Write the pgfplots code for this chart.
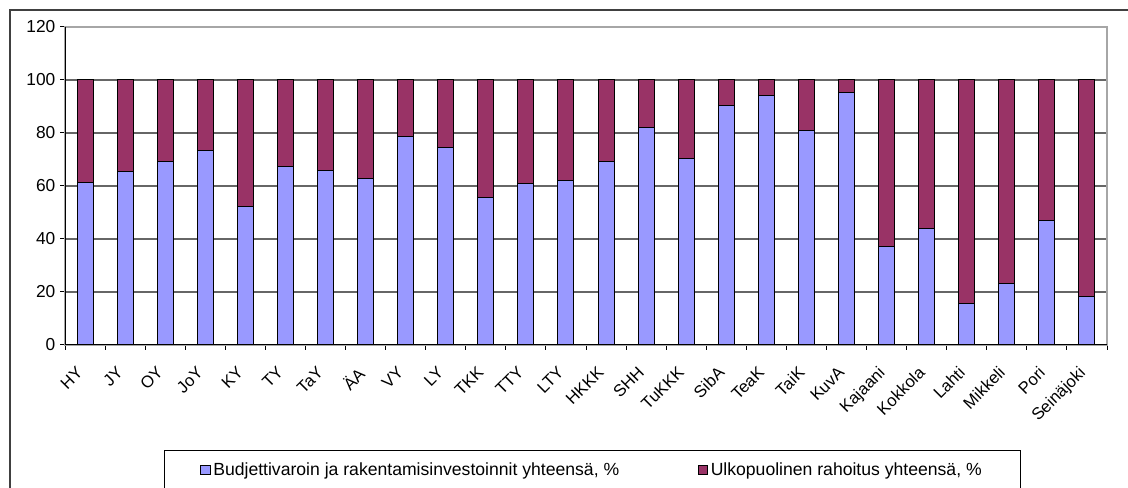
\documentclass[border=0pt]{standalone}
\usepackage{pgfplots}
\pgfplotsset{compat=1.18}
\usepackage{pgfplotstable}
\usepackage{fontspec}
\setmainfont{Liberation Sans}
\definecolor{cblue}{HTML}{9999FF}
\definecolor{cred}{HTML}{993366}
\pgfplotstableread{
x b u
0 61.5 38.5
1 65.3 34.7
2 69.1 30.9
3 73.5 26.5
4 52.1 47.9
5 67.3 32.7
6 65.8 34.2
7 62.8 37.2
8 78.6 21.4
9 74.7 25.3
10 55.8 44.2
11 60.9 39.1
12 62.0 38.0
13 69.1 30.9
14 82.1 17.9
15 70.3 29.7
16 90.3 9.7
17 94.1 5.9
18 80.9 19.1
19 95.3 4.7
20 37.0 63.0
21 43.9 56.1
22 15.6 84.4
23 23.1 76.9
24 47.0 53.0
25 18.2 81.8
}\datatable
\begin{document}
\begin{tikzpicture}
\useasboundingbox (0,0) rectangle (846pt,366pt);
\draw[black!75, line width=0.9pt] (7.5pt,-10pt) -- (7.5pt,358.5pt) -- (860pt,358.5pt);
\begin{axis}[
  at={(48.75pt,107.25pt)}, anchor=south west,
  scale only axis, width=781.5pt, height=238.5pt,
  ybar stacked, bar width=12pt,
  xmin=-0.5, xmax=25.5, ymin=0, ymax=120,
  ytick={0,20,...,120},
  xtick={-0.5,0.5,...,25.5},
  x tick label as interval,
  xticklabels={HY,JY,OY,JoY,KY,TY,TaY,ÄA,VY,LY,TKK,TTY,LTY,HKKK,SHH,TuKKK,SibA,TeaK,TaiK,KuvA,Kajaani,Kokkola,Lahti,Mikkeli,Pori,Seinäjoki},
  tick align=outside, tick pos=left,
  major tick length=3.75pt,
  tick style={black, line width=0.75pt},
  ymajorgrids, grid style={black!60, line width=0.8pt},
  axis line style={black!35, line width=0.9pt},
  yticklabel style={font=\fontsize{13}{15}\selectfont, /pgf/number format/assume math mode=true},
  xticklabel style={font=\fontsize{12.5}{14}\selectfont, xshift=-7pt, yshift=-10pt, rotate=45, anchor=north east, inner sep=1pt},
  legend style={at={(0.095,-0.330)}, anchor=north west, draw=black, line width=0.75pt,
    font=\fontsize{13.2}{15}\selectfont, legend columns=2, inner xsep=27pt, inner ysep=7pt,
    /tikz/every even column/.append style={column sep=57pt}},
  legend image code/.code={\draw[#1, draw=black, line width=0.6pt] (0pt,-3.5pt) rectangle (7pt,3.5pt);},
]
\addplot[fill=cblue, draw=black, line width=0.75pt] table[x=x, y=b] {\datatable};
\addlegendentry{Budjettivaroin ja rakentamisinvestoinnit yhteensä, \%}
\addplot[fill=cred, draw=black, line width=0.75pt] table[x=x, y=u] {\datatable};
\addlegendentry{Ulkopuolinen rahoitus yhteensä, \%}
\draw[black, line width=0.75pt] (rel axis cs:0,1) -- (rel axis cs:0,0) -- (rel axis cs:1,0);
\end{axis}
\end{tikzpicture}
\end{document}
